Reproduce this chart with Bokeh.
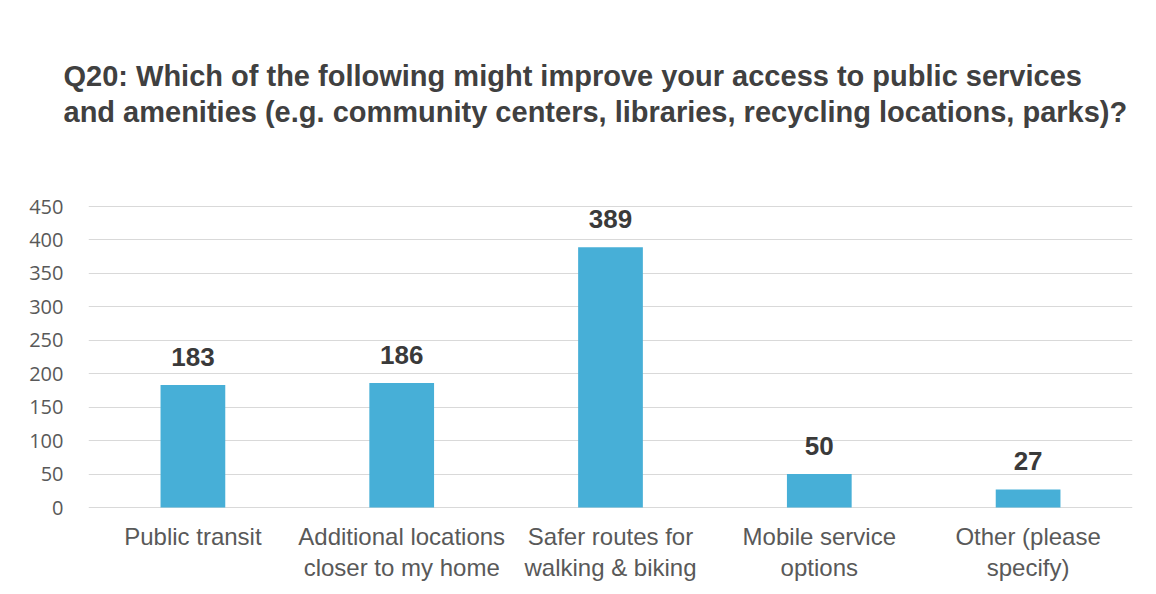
from bokeh.plotting import figure
from bokeh.models import ColumnDataSource, FixedTicker, FactorRange, Title, Range1d
from bokeh.core.properties import value
from bokeh.embed import file_html
from bokeh.resources import INLINE

categories = ["Public transit", "Additional locations\ncloser to my home", "Safer routes for\nwalking & biking",
              "Mobile service\noptions", "Other (please\nspecify)"]
counts = [183, 186, 389, 50, 27]
y_ticks = [0, 50, 100, 150, 200, 250, 300, 350, 400, 450]
title_lines = ["Q20: Which of the following might improve your access to public  services",
               "and amenities (e.g. community centers, libraries, recycling locations, parks)?"]

FONT = "Liberation Sans"

# layout in canvas pixels
W, H = 1156, 594
FRAME_TOP = 128
ZERO_PX, P450_PX = 507, 206
k = (ZERO_PX - P450_PX) / 450.0
y_start = -(H - ZERO_PX) / k
y_end = (ZERO_PX - FRAME_TOP) / k

src = ColumnDataSource(dict(cat=categories, val=counts, lbl=[str(v) for v in counts]))

p = figure(width=W, height=H, x_range=FactorRange(*categories), y_range=Range1d(y_start, y_end),
           output_backend="svg", toolbar_location=None,
           min_border_left=88, min_border_right=24, min_border_bottom=0, min_border_top=FRAME_TOP)
p.outline_line_color = None
p.background_fill_color = "white"
p.border_fill_color = "white"
p.title.visible = False

p.vbar(x="cat", top="val", width=0.31, source=src, fill_color="#47afd7", line_color=None)
p.text(x="cat", y="val", text="lbl", source=src, text_align="center", text_baseline="alphabetic",
       y_offset=-28, text_font=value(FONT), text_font_style="bold", text_font_size="26px",
       text_color="#3a3a3a")

# category labels below the zero line
p.text(x="cat", y=0, text="cat", source=src, text_align="center", text_baseline="top",
       y_offset=15, text_font=value(FONT), text_font_size="24px", text_color="#595959",
       text_line_height=1.18)

p.yaxis.ticker = FixedTicker(ticks=y_ticks)
p.yaxis.axis_line_color = None
p.yaxis.major_tick_line_color = None
p.yaxis.minor_tick_line_color = None
p.yaxis.major_label_standoff = 19
p.yaxis.major_label_text_font = "Open Sans"
p.yaxis.major_label_text_font_size = "20px"
p.yaxis.major_label_text_color = "#595959"
p.xaxis.visible = False

p.xgrid.grid_line_color = None
p.ygrid.grid_line_color = "#d9d9d9"
p.ygrid.grid_line_width = 1

# title: second line added first (closest to the plot), then first line
p.add_layout(Title(text=title_lines[1], align="left", offset=-25, standoff=2,
                   text_font=FONT, text_font_style="bold", text_font_size="29px",
                   text_color="#404040"), "above")
p.add_layout(Title(text=title_lines[0], align="left", offset=-25, standoff=2,
                   text_font=FONT, text_font_style="bold", text_font_size="29px",
                   text_color="#404040"), "above")

open("out.html", "w").write(file_html(p, INLINE))
